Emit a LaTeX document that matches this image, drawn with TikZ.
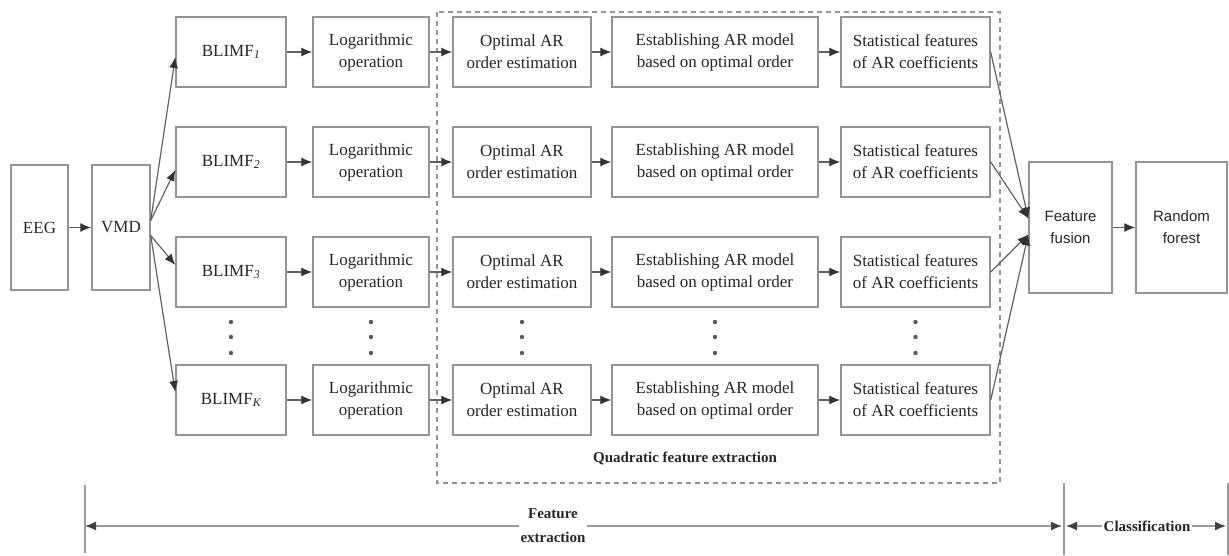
\documentclass[tikz,border=0pt]{standalone}
\usepackage{fontspec}
\setmainfont{Liberation Serif}
\setsansfont{Liberation Sans}
\usetikzlibrary{arrows.meta}

\tikzset{
  blk/.style={draw=black!42, line width=1.4pt, fill=white, text=black!85,
    align=center, inner sep=0pt, font=\fontsize{17}{22}\selectfont},
  rowbox/.style={blk, minimum height=70pt},
  sidebox/.style={blk, minimum height=131pt},
  flow/.style={draw=black!62, line width=1.2pt, -{Latex[length=11pt,width=9pt,black!80]}},
  dimline/.style={draw=black!40, line width=1.4pt,
    {Latex[length=11pt,width=9pt,black!75]}-{Latex[length=11pt,width=9pt,black!75]}},
  tick/.style={draw=black!40, line width=1.2pt},
  boldlbl/.style={fill=white, text=black!85, align=center, inner sep=2pt,
    font=\bfseries\fontsize{15}{24}\selectfont},
}

\begin{document}
\begin{tikzpicture}[x=1pt, y=-1pt]
\useasboundingbox (0,0) rectangle (1229,555);

% input and decomposition
\node[blk, minimum width=57pt, minimum height=125pt] (eeg) at (39.5,227.5) {EEG};
\node[blk, minimum width=58pt, minimum height=125pt] (vmd) at (121,227.5) {VMD};
\draw[flow] (eeg) -- (vmd);

% quadratic feature extraction frame
\draw[draw=black!42, line width=1.2pt, dash pattern=on 5pt off 4pt] (437,12) rectangle (1000,483);
\node[boldlbl, fill=none] (qfe) at (685,458) {Quadratic feature extraction};

% fusion and classification
\node[sidebox, minimum width=83pt, font=\sffamily\fontsize{15}{22}\selectfont] (fuse) at (1070.5,227.5) {Feature\\fusion};
\node[sidebox, minimum width=91pt, font=\sffamily\fontsize{15}{22}\selectfont] (rf) at (1181.5,227.5) {Random\\forest};
\draw[flow] (fuse) -- (rf);

% processing rows, one per band-limited mode
\foreach \r/\y/\s/\va/\vb/\fy in {1/52/1/7/-5/9, 2/162/2/7/-8/9, 3/272/3/-8/7/-7, 4/400/K/-8/8/-7} {
  \node[rowbox, minimum width=110pt] (b\r) at (231,\y) {BLIMF\textsubscript{\itshape\s}};
  \node[rowbox, minimum width=116pt] (l\r) at (371,\y) {Logarithmic\\operation};
  \node[rowbox, minimum width=138pt] (o\r) at (522,\y) {Optimal AR\\order estimation};
  \node[rowbox, minimum width=206pt] (e\r) at (715,\y) {Establishing AR model\\based on optimal order};
  \node[rowbox, minimum width=149pt] (s\r) at (915.5,\y) {Statistical features\\of AR coefficients};
  \draw[flow] ([yshift=\va pt]vmd.east) -- ([yshift=\vb pt]b\r.west);
  \draw[flow] (b\r) -- (l\r);
  \draw[flow] (l\r) -- (o\r);
  \draw[flow] (o\r) -- (e\r);
  \draw[flow] (e\r) -- (s\r);
  \draw[flow] (s\r.east) -- ([yshift=\fy pt]fuse.west);
}

% ellipsis dots between the third and last rows
\foreach \x in {231,371,522,715,915.5}
  \foreach \yy in {322,337,353}
    \fill[black!65] (\x,\yy) circle (2.2pt);

% stage extents
\coordinate (fa) at (85,526);
\coordinate (fb) at (1062,526);
\coordinate (ca) at (1066,526);
\coordinate (cb) at (1226,526);
\draw[tick] (85,485) -- (85,553);
\draw[tick] (1064,483) -- (1064,555);
\draw[tick] (1228,483) -- (1228,555);
\draw[dimline] (fa) -- (fb);
\draw[dimline] (ca) -- (cb);
\node[boldlbl] (fe) at (553,526) {Feature\\extraction};
\node[boldlbl] (cl) at (1147,526) {Classification};
\end{tikzpicture}
\end{document}
